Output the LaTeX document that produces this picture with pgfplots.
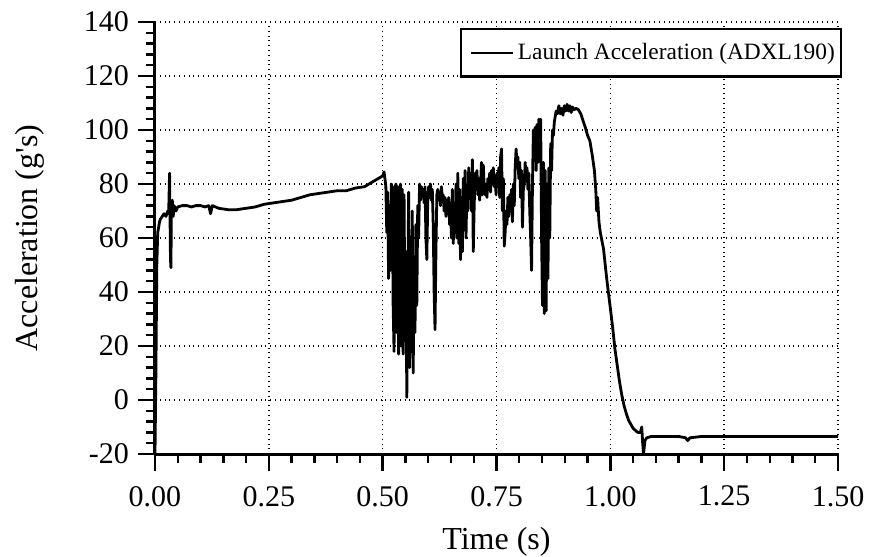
\documentclass[border=0pt]{standalone}
\usepackage{fontspec}
\setmainfont{Liberation Serif}
\usepackage{pgfplots}
\pgfplotsset{compat=1.18}

\begin{document}
\begin{tikzpicture}
  % page box: 870x556 px at 0.5pt per px, axis box at 155..838 x 22..454 px
  \path[use as bounding box] (-77.5pt,-51pt) rectangle (357.5pt,227pt);
  \begin{axis}[
      scale only axis,
      width=341.5pt, height=216pt,
      xmin=0, xmax=1.5, ymin=-20, ymax=140,
      xtick distance=0.25, ytick distance=20,
      minor x tick num=4, minor y tick num=4,
      axis lines*=left,
      axis line style={line width=1.5pt},
      tick align=outside,
      major tick length=8.5pt, minor tick length=4.5pt,
      every tick/.style={black, line width=1.2pt},
      grid=major,
      major grid style={black, dotted, line width=0.7pt},
      font=\fontsize{15}{18}\selectfont,
      /pgf/number format/assume math mode=true,
      xticklabel style={yshift=-4pt, /pgf/number format/.cd, fixed, fixed zerofill, precision=2},
      yticklabel style={xshift=-1pt},
      xlabel={Time (s)},
      ylabel={Acceleration (g\textquotesingle s)},
      every axis x label/.style={at={(axis description cs:0.5,-0.168)}, anchor=north,
        inner sep=0pt, font=\fontsize{16}{19}\selectfont},
      every axis y label/.style={at={(axis description cs:-0.161,0.5)}, rotate=90,
        anchor=south, inner sep=0pt, font=\fontsize{16}{19}\selectfont},
      legend style={at={(1.006,0.986)}, anchor=north east, draw=black,
        line width=1.2pt, inner xsep=1pt, inner ysep=5pt,
        font=\fontsize{11.7}{14}\selectfont, legend cell align=left},
      legend image code/.code={\path[draw=none] (0pt,0pt) -- (4pt,0pt);
        \draw[#1, line width=1pt] (4pt,0pt) -- (25pt,0pt);},
    ]
    \addplot[black, line width=1.4pt, line join=round] coordinates {
      (0.000,-20) (0.002,10) (0.004,50) (0.006,62) (0.008,64) (0.010,66)
      (0.012,67) (0.016,68) (0.020,69) (0.024,68) (0.028,70) (0.030,69)
      (0.032,84) (0.034,52) (0.035,49) (0.036,70) (0.038,74) (0.040,68)
      (0.042,72) (0.046,70) (0.050,71.5) (0.060,72) (0.070,72) (0.080,71.5)
      (0.090,72) (0.100,72) (0.110,71.5) (0.118,72) (0.122,69) (0.126,72)
      (0.140,71) (0.160,70.5) (0.180,70.5) (0.200,71) (0.220,71.5)
      (0.240,72.5) (0.260,73) (0.280,73.5) (0.300,74) (0.320,75) (0.340,76)
      (0.360,76.5) (0.380,77) (0.400,77.5) (0.420,77.5) (0.440,78.5)
      (0.460,79) (0.470,80) (0.480,81) (0.490,82) (0.500,83) (0.503,84.5)
      (0.505,82) (0.507,79) (0.509,62) (0.511,77) (0.513,45) (0.515,72)
      (0.517,48) (0.519,80) (0.521,79) (0.523,35) (0.525,18) (0.527,78)
      (0.529,80) (0.531,25) (0.533,79) (0.535,17) (0.537,65) (0.539,80)
      (0.541,20) (0.543,78) (0.545,17) (0.547,76) (0.549,22) (0.551,55)
      (0.553,1) (0.555,35) (0.557,77) (0.559,12) (0.561,60) (0.563,18)
      (0.565,70) (0.567,10) (0.569,45) (0.571,25) (0.573,65) (0.575,35)
      (0.577,72) (0.579,60) (0.581,80) (0.583,74) (0.585,79) (0.587,76)
      (0.589,78) (0.591,73) (0.593,79) (0.595,60) (0.597,52) (0.599,74)
      (0.601,79) (0.603,75) (0.605,80) (0.607,74) (0.609,78) (0.611,65)
      (0.613,40) (0.615,26) (0.617,55) (0.619,76) (0.621,78) (0.623,74)
      (0.625,77) (0.627,72) (0.629,79) (0.631,75) (0.633,76) (0.635,70)
      (0.637,75) (0.639,68) (0.641,74) (0.643,69) (0.645,75) (0.647,65)
      (0.649,72) (0.651,60) (0.653,78) (0.655,58) (0.657,70) (0.659,62)
      (0.661,80) (0.663,60) (0.665,84) (0.667,58) (0.669,78) (0.671,52)
      (0.673,75) (0.675,55) (0.677,82) (0.679,65) (0.681,85) (0.683,60)
      (0.685,78) (0.687,70) (0.689,86) (0.691,75) (0.693,82) (0.695,70)
      (0.697,89) (0.699,55) (0.701,72) (0.703,84) (0.705,78) (0.707,85)
      (0.709,76) (0.711,82) (0.713,74) (0.715,80) (0.717,88) (0.719,76)
      (0.721,87) (0.723,79) (0.725,76) (0.727,80) (0.729,75) (0.731,82)
      (0.733,78) (0.735,84) (0.737,77) (0.739,85) (0.741,80) (0.743,86)
      (0.745,79) (0.747,83) (0.749,76) (0.751,84) (0.753,80) (0.755,86)
      (0.757,75) (0.759,90) (0.761,93) (0.763,70) (0.765,82) (0.767,57)
      (0.769,62) (0.771,70) (0.773,65) (0.775,75) (0.777,68) (0.779,76)
      (0.781,70) (0.783,78) (0.785,66) (0.787,80) (0.789,72) (0.791,86)
      (0.793,93) (0.795,88) (0.797,90) (0.799,82) (0.801,88) (0.803,75)
      (0.805,85) (0.807,64) (0.809,78) (0.811,80) (0.813,88) (0.815,82)
      (0.817,86) (0.819,78) (0.821,84) (0.823,70) (0.825,60) (0.827,48)
      (0.829,80) (0.831,100) (0.833,90) (0.835,101) (0.837,85) (0.839,102)
      (0.841,88) (0.843,104) (0.845,95) (0.847,104) (0.849,60) (0.851,35)
      (0.853,88) (0.855,32) (0.857,85) (0.859,33) (0.861,80) (0.863,45)
      (0.865,86) (0.867,60) (0.869,95) (0.871,85) (0.873,100) (0.875,98)
      (0.877,103) (0.879,105) (0.881,107) (0.884,106) (0.887,109) (0.890,106)
      (0.893,108) (0.896,105.5) (0.899,109) (0.902,107) (0.905,109.5)
      (0.908,107) (0.911,109) (0.914,106.5) (0.917,108.5) (0.920,107.5)
      (0.925,108) (0.930,107.5) (0.935,106) (0.940,103.5) (0.945,101)
      (0.950,98) (0.955,96) (0.960,91) (0.965,85) (0.968,78) (0.970,70)
      (0.972,75) (0.975,66) (0.978,62) (0.985,56) (0.992,45) (1.000,34)
      (1.005,27) (1.010,19) (1.015,13) (1.020,7) (1.025,2) (1.030,-2)
      (1.035,-5) (1.040,-7.5) (1.045,-9) (1.050,-10.5) (1.060,-12)
      (1.066,-12) (1.069,-10) (1.071,-16) (1.073,-20) (1.076,-15)
      (1.080,-14) (1.090,-13.5) (1.100,-13.5) (1.150,-13.5) (1.165,-14)
      (1.170,-15) (1.175,-14) (1.200,-13.5) (1.300,-13.5) (1.400,-13.5)
      (1.500,-13.5)
    };
    \addlegendentry{Launch Acceleration (ADXL190)}
  \end{axis}
\end{tikzpicture}
\end{document}
